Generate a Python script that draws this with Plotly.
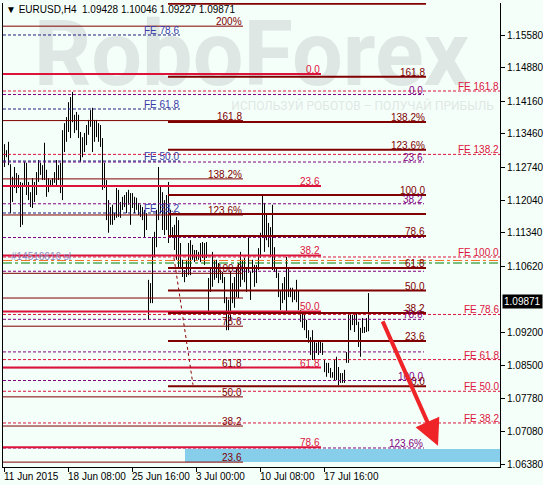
import plotly.graph_objects as go

# ---------------- data ----------------
title_text = "EURUSD,H4\u00a0\u00a01.09428\u00a01.10046\u00a01.09227\u00a01.09871"
last_price = 1.09871

highs = [
    1.1324, 1.1311, 1.1329, 1.1281, 1.1254, 1.1275, 1.1262, 1.1258, 1.1243, 1.1241,
    1.1286, 1.1284, 1.1243, 1.1221, 1.1251, 1.1243, 1.1264, 1.1290, 1.1284, 1.1279,
    1.1327, 1.1269, 1.1251, 1.1247, 1.1251, 1.1264, 1.1290, 1.1279, 1.1284, 1.1354,
    1.1369, 1.1382, 1.1414, 1.1425, 1.1436, 1.1387, 1.1393, 1.1387, 1.1350, 1.1339,
    1.1348, 1.1365, 1.1376, 1.1397, 1.1402, 1.1376, 1.1376, 1.1369, 1.1365, 1.1337,
    1.1284, 1.1247, 1.1204, 1.1189, 1.1194, 1.1176, 1.1230, 1.1226, 1.1200, 1.1211,
    1.1215, 1.1221, 1.1226, 1.1219, 1.1219, 1.1211, 1.1209, 1.1198, 1.1194, 1.1189,
    1.1183, 1.1176, 1.1033, 1.1026, 1.1125, 1.1136, 1.1183, 1.1275, 1.1236, 1.1221,
    1.1204, 1.1215, 1.1243, 1.1183, 1.1146, 1.1151, 1.1168, 1.1161, 1.1112, 1.1076,
    1.1054, 1.1076, 1.1112, 1.1118, 1.1108, 1.1097, 1.1097, 1.1093, 1.1112, 1.1114,
    1.1112, 1.1114, 1.1037, 1.1058, 1.1093, 1.1076, 1.1076, 1.1069, 1.1054, 1.1050,
    1.1039, 1.0996, 1.0990, 1.1050, 1.1026, 1.1039, 1.1060, 1.1069, 1.1093, 1.1076,
    1.1080, 1.1060, 1.1123, 1.1050, 1.1076, 1.1065, 1.1065, 1.1101, 1.1134, 1.1215,
    1.1198, 1.1176, 1.1155, 1.1146, 1.1194, 1.1103, 1.1060, 1.1048, 1.1011, 1.1026,
    1.1039, 1.1082, 1.1060, 1.1016, 1.1016, 1.1011, 1.1033, 1.1011, 1.0968, 1.0962,
    1.0964, 1.0947, 1.0925, 1.0910, 1.0925, 1.0904, 1.0898, 1.0904, 1.0904, 1.0898,
    1.0861, 1.0855, 1.0855, 1.0844, 1.0835, 1.0861, 1.0868, 1.0846, 1.0833, 1.0833,
    1.0840, 1.0878, 1.0964, 1.0964, 1.0958, 1.0958, 1.0964, 1.0943, 1.0930, 1.0951,
    1.0932, 1.0951, 1.10046,
]
lows = [
    1.1275, 1.1296, 1.1279, 1.1176, 1.1200, 1.1230, 1.1219, 1.1230, 1.1146, 1.1151,
    1.1236, 1.1215, 1.1204, 1.1189, 1.1187, 1.1200, 1.1215, 1.1243, 1.1258, 1.1247,
    1.1247, 1.1211, 1.1221, 1.1232, 1.1236, 1.1241, 1.1236, 1.1247, 1.1219, 1.1204,
    1.1307, 1.1329, 1.1350, 1.1337, 1.1371, 1.1348, 1.1354, 1.1337, 1.1286, 1.1296,
    1.1307, 1.1322, 1.1344, 1.1361, 1.1307, 1.1329, 1.1339, 1.1329, 1.1318, 1.1226,
    1.1230, 1.1161, 1.1134, 1.1151, 1.1151, 1.1161, 1.1166, 1.1168, 1.1166, 1.1183,
    1.1189, 1.1176, 1.1194, 1.1151, 1.1187, 1.1176, 1.1183, 1.1172, 1.1168, 1.1161,
    1.1125, 1.1140, 1.0947, 1.0983, 1.0983, 1.1082, 1.1103, 1.1161, 1.1176, 1.1140,
    1.1129, 1.1140, 1.1112, 1.1125, 1.1123, 1.1097, 1.1076, 1.1060, 1.1058, 1.1039,
    1.1028, 1.1039, 1.1043, 1.1043, 1.1076, 1.1071, 1.1076, 1.1076, 1.1071, 1.1080,
    1.1065, 1.1080, 1.0964, 1.1007, 1.1018, 1.1033, 1.1037, 1.1026, 1.1033, 1.1026,
    1.0983, 1.0925, 1.0925, 1.0947, 1.0983, 1.0973, 1.0996, 1.0994, 1.1018, 1.1033,
    1.1028, 1.1007, 1.1048, 1.0990, 1.1048, 1.1018, 1.1026, 1.1054, 1.1080, 1.1123,
    1.1093, 1.1118, 1.1103, 1.1082, 1.1054, 1.1050, 1.1037, 1.0996, 1.0968, 1.0983,
    1.0990, 1.0962, 1.0996, 1.0996, 1.0985, 1.0990, 1.0985, 1.0968, 1.0943, 1.0930,
    1.0925, 1.0908, 1.0898, 1.0872, 1.0861, 1.0861, 1.0876, 1.0872, 1.0876, 1.0872,
    1.0835, 1.0825, 1.0833, 1.0823, 1.0823, 1.0818, 1.0818, 1.0807, 1.0812, 1.0812,
    1.0812, 1.0855, 1.0855, 1.0925, 1.0936, 1.0921, 1.0936, 1.0889, 1.0868, 1.0919,
    1.0919, 1.0921, 1.09227,
]

x_tick_index = [0, 32, 64, 96, 128, 160]
x_tick_labels = ["11 Jun 2015", "18 Jun 08:00", "25 Jun 16:00", "3 Jul 00:00",
                 "10 Jul 08:00", "17 Jul 16:00"]
y_tick_vals = [1.15580, 1.14880, 1.14160, 1.13460, 1.12740, 1.12040, 1.11340,
               1.10620, 1.09200, 1.08500, 1.07780, 1.07080, 1.06380]
y_tick_labels = ["%.5f" % v for v in y_tick_vals]

# Fibonacci objects (level %, label, 0% price, 100% price)
fibA_levels = [23.6, 38.2, 50, 61.8, 78.6, 90, 100, 123.6, 138.2, 161.8, 200]
fibA_labels = ["23.6", "38.2", "50.0", "61.8", "78.6", "", "100.0", "123.6%", "138.2%", "161.8", "200%"]
fibA_p0, fibA_p100 = 1.0517, 1.1047

fibB_levels = [0, 23.6, 38.2, 50, 61.8, 78.6]
fibB_labels = ["0.0", "23.6", "38.2", "50.0", "61.8", "78.6"]
fibB_p0, fibB_p100 = 1.14744, 1.04558

fibC_levels = [0, 23.6, 38.2, 50, 61.8, 78.6, 90, 100, 123.6, 138.2, 161.8, 200]
fibC_labels = ["0.0", "23.6", "38.2", "50.0", "61.8", "78.6", "", "100.0", "123.6%", "138.2%", "161.8", ""]
fibC_p0, fibC_p100 = 1.0805, 1.1215

fibD_levels = [0, 23.6, 38.2, 50, 61.8, 78.6, 90, 100, 123.6]
fibD_labels = ["0.0", "23.6", "38.2", "", "", "78.6", "", "100.0", "123.6%"]
fibD_p0, fibD_p100 = 1.14304, 1.08171

fibE_levels = [38.2, 50, 61.8, 78.6]
fibE_labels = ["FE 38.2", "FE 50.0", "FE 61.8", "FE 78.6"]
fibE_p0, fibE_p100 = 1.08154, 1.17603

fibF_levels = [38.2, 50, 61.8, 78.6, 100, 138.2, 161.8]
fibF_labels = ["FE 38.2", "FE 50.0", "FE 61.8", "FE 78.6", "FE 100.0", "FE 138.2", "FE 161.8"]
fibF_p0, fibF_p100 = 1.05060, 1.10820

order_label = "#14516616 sl"
order_sl_price = 1.10745
order_open_price = 1.10691

trend_time = [84.75, 94.25]
trend_price = [1.1080, 1.0808]
arrow_time = [188.75, 216.75]
arrow_price = [1.0947, 1.0677]
target_zone_time = 90.25
target_zone_price = [1.06424, 1.06702]

# ---------------- layout constants ----------------
X_RANGE = [-0.75, 247.75]
Y_RANGE = [1.06316, 1.16267]
BG = "#F5FFFA"
FONT = "Liberation Sans"
MAROON = "#800000"
CRIMSON = "#DC143C"
PURPLE = "#800080"
NAVY = "#1E1E80"

fig = go.Figure()

# watermark
fig.add_trace(go.Scatter(x=[123.5], y=[1.1500], mode="text", text=["RoboForex"],
                         textfont=dict(family="Roboto", size=90, color="#DEE7E4", weight="bold"),
                         hoverinfo="skip", showlegend=False))
fig.add_trace(go.Scatter(x=[179.0], y=[1.1404], mode="text",
                         text=["ИСПОЛЬЗУЙ РОБОТОВ – ПОЛУЧАЙ ПРИБЫЛЬ"],
                         textfont=dict(family="Roboto", size=12, color="#E0E8E5"),
                         hoverinfo="skip", showlegend=False))

# price bars (high-low)
bx, by = [], []
for i, (h, l) in enumerate(zip(highs, lows)):
    bx += [i, i, None]
    by += [l, h, None]
fig.add_trace(go.Scatter(x=bx, y=by, mode="lines", line=dict(color="black", width=1),
                         hoverinfo="skip", showlegend=False))

shapes = []
annos = []


def fib(levels, labels, p0, p100, x0, x1, color, width, dash, lcolor, xref="x"):
    for lv, lb in zip(levels, labels):
        p = p0 + (p100 - p0) * lv / 100.0
        shapes.append(dict(type="line", xref=xref, yref="y", x0=x0, x1=x1, y0=p, y1=p,
                           line=dict(color=color, width=width, dash=dash)))
        if lb:
            annos.append(dict(xref=xref, yref="y", x=x1, y=p, text=lb,
                              showarrow=False, xanchor="right", yanchor="bottom", yshift=-2,
                              borderpad=0, font=dict(family=FONT, size=10, color=lcolor)))


# target zone rectangle
shapes.append(dict(type="rect", xref="x", yref="y", x0=target_zone_time, x1=X_RANGE[1],
                   y0=target_zone_price[0], y1=target_zone_price[1],
                   fillcolor="#87CEEB", line=dict(width=0), layer="below"))

fib(fibA_levels, fibA_labels, fibA_p0, fibA_p100, X_RANGE[0], 119.25, MAROON, 1, "solid", MAROON)
fib(fibD_levels, fibD_labels, fibD_p0, fibD_p100, X_RANGE[0], 209.75, PURPLE, 1, "3px,2px", PURPLE)
fib(fibE_levels, fibE_labels, fibE_p0, fibE_p100, X_RANGE[0], 87.75, NAVY, 1, "3px,2px", "#3A3AA8")
fib(fibF_levels, fibF_labels, fibF_p0, fibF_p100, 0, 1, CRIMSON, 1, "3px,2px", CRIMSON, xref="paper")
fib(fibB_levels, fibB_labels, fibB_p0, fibB_p100, X_RANGE[0], 158.25, CRIMSON, 2, "solid", CRIMSON)
fib(fibC_levels, fibC_labels, fibC_p0, fibC_p100, 81.75, 210.75, MAROON, 2, "solid", MAROON)

# order lines
shapes.append(dict(type="line", xref="paper", yref="y", x0=0, x1=1, y0=order_sl_price, y1=order_sl_price,
                   line=dict(color="#F07020", width=1, dash="dashdot")))
shapes.append(dict(type="line", xref="paper", yref="y", x0=0, x1=1, y0=order_open_price, y1=order_open_price,
                   line=dict(color="#008000", width=1, dash="dashdot")))
annos.append(dict(xref="paper", yref="y", x=0.014, y=order_sl_price, text=order_label, showarrow=False,
                  xanchor="left", yanchor="bottom", yshift=-3, borderpad=0,
                  font=dict(family=FONT, size=10, color="#8A8AC0")))

# dashed trend line
shapes.append(dict(type="line", xref="x", yref="y", x0=trend_time[0], x1=trend_time[1],
                   y0=trend_price[0], y1=trend_price[1],
                   line=dict(color="#8B0000", width=1, dash="3px,3px")))

# red arrow
annos.append(dict(xref="x", yref="y", axref="x", ayref="y", x=arrow_time[1], y=arrow_price[1],
                  ax=arrow_time[0], ay=arrow_price[0], showarrow=True, arrowhead=2,
                  arrowsize=1.3, arrowwidth=4, arrowcolor="#EE2428", text=""))

# title
annos.append(dict(xref="paper", yref="paper", x=0.004, y=0.985, xanchor="left", yanchor="middle",
                  text="\u25bc\u00a0" + title_text, showarrow=False, borderpad=0,
                  font=dict(family=FONT, size=10, color="black")))

# x tick labels (left aligned as in terminal)
for xi, lab in zip(x_tick_index, x_tick_labels):
    annos.append(dict(xref="x", yref="paper", x=xi, y=0, xanchor="left", yanchor="top", yshift=-3,
                      xshift=-2, text=lab, showarrow=False, borderpad=0,
                      font=dict(family=FONT, size=10, color="black")))

# current price label
annos.append(dict(xref="paper", yref="y", x=1, y=last_price, xanchor="left", yanchor="middle",
                  xshift=2, text="%.5f" % last_price, showarrow=False, bgcolor="black", borderpad=1,
                  font=dict(family=FONT, size=10, color="white")))

fig.update_layout(
    width=543, height=485,
    margin=dict(l=3, r=43, t=3, b=18, pad=0, autoexpand=False),
    paper_bgcolor=BG, plot_bgcolor=BG,
    showlegend=False,
    shapes=shapes, annotations=annos,
    xaxis=dict(range=X_RANGE, showgrid=False, zeroline=False, tickvals=x_tick_index,
               showticklabels=False, ticks="outside", ticklen=4, tickcolor="black",
               showline=True, linecolor="black", linewidth=1, fixedrange=True, automargin=False),
    yaxis=dict(range=Y_RANGE, side="right", showgrid=False, zeroline=False,
               tickvals=y_tick_vals, ticktext=y_tick_labels, ticks="outside", ticklen=4,
               tickcolor="black", showline=True, linecolor="black", linewidth=1, mirror=True,
               tickfont=dict(family=FONT, size=10, color="black"), fixedrange=True,
               automargin=False),
)

fig.write_html("out.html", config={"displayModeBar": False},
               post_script="document.body.style.margin='0';document.body.style.background='%s';" % BG)
